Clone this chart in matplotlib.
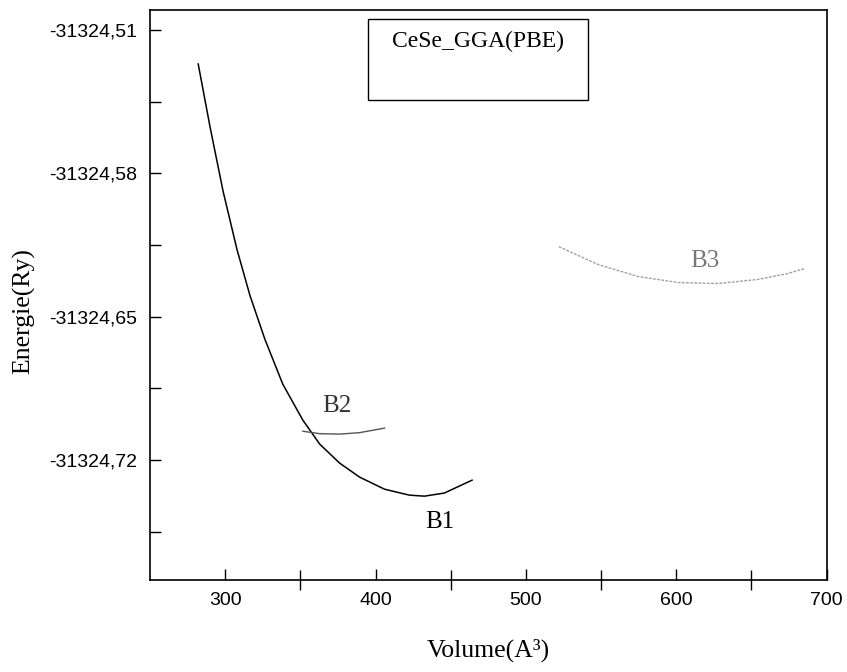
import matplotlib.pyplot as plt
from matplotlib.patches import Rectangle
from matplotlib.ticker import FixedLocator, FuncFormatter

# B1 curve (volume, energy)
b1_vol = [282.1, 290.1, 298.7, 307.9, 316.5, 326.5, 338.4, 351.7, 362.9,
          376.2, 389.4, 406.0, 422.5, 432.5, 445.7, 464.2]
b1_en = [-31324.5266, -31324.5578, -31324.5889, -31324.6172, -31324.6396,
         -31324.6611, -31324.6830, -31324.7005, -31324.7122, -31324.7215,
         -31324.7283, -31324.7342, -31324.7371, -31324.7376, -31324.7361,
         -31324.7298]

# B2 curve
b2_vol = [351.7, 362.9, 376.2, 389.4, 406.0]
b2_en = [-31324.7059, -31324.7071, -31324.7073, -31324.7066, -31324.7044]

# B3 curve
b3_vol = [521.9, 548.3, 574.8, 601.3, 627.8, 654.3, 674.2, 685.4]
b3_en = [-31324.6158, -31324.6246, -31324.6304, -31324.6333, -31324.6338,
         -31324.6318, -31324.6289, -31324.6265]

y_major = [-31324.51, -31324.58, -31324.65, -31324.72]
y_minor = [-31324.545, -31324.615, -31324.685, -31324.755]
x_major = [300, 400, 500, 600, 700]
x_minor = [350, 450, 550, 650]

serif = ['Liberation Serif', 'DejaVu Serif']
sans = ['Liberation Sans', 'DejaVu Sans']

fig = plt.figure(figsize=(8.47, 6.72), dpi=100)
ax = fig.add_axes([0.177, 0.137, 0.799, 0.848])

ax.plot(b1_vol, b1_en, color='black', lw=1.1)
ax.plot(b2_vol, b2_en, color='#555555', lw=1.0)
ax.plot(b3_vol, b3_en, color='#a0a0a0', lw=1.0, linestyle=(0, (2, 1)))

ax.set_xlim(250, 700)
ax.set_ylim(-31324.7785, -31324.5003)

ax.xaxis.set_major_locator(FixedLocator(x_major))
ax.xaxis.set_minor_locator(FixedLocator(x_minor))
ax.yaxis.set_major_locator(FixedLocator(y_major))
ax.yaxis.set_minor_locator(FixedLocator(y_minor))
ax.yaxis.set_major_formatter(FuncFormatter(lambda v, p: f'{v:.2f}'.replace('.', ',')))
ax.xaxis.set_major_formatter(FuncFormatter(lambda v, p: f'{v:.0f}'))

ax.tick_params(axis='both', which='major', direction='in', length=8, width=1, labelsize=14, pad=9)
ax.tick_params(axis='y', which='minor', direction='in', length=8, width=1)
ax.tick_params(axis='x', which='minor', direction='inout', length=14, width=1)
ax.tick_params(top=False, right=False)
for lab in ax.get_xticklabels() + ax.get_yticklabels():
    lab.set_family(sans)

for sp in ax.spines.values():
    sp.set_linewidth(1.2)

ax.set_xlabel('Volume(A³)', family=serif, fontsize=18.5)
ax.set_ylabel('Energie(Ry)', family=serif, fontsize=18.5)
ax.xaxis.set_label_coords(0.5, -0.103)
ax.yaxis.set_label_coords(-0.17, 0.472)

ax.text(443, -31324.7500, 'B1', family=serif, fontsize=18, ha='center', va='center')
ax.text(374, -31324.6937, 'B2', family=serif, fontsize=18, ha='center', va='center', color='#333333')
ax.text(619, -31324.6229, 'B3', family=serif, fontsize=18, ha='center', va='center', color='#777777')

# title box
ax.add_patch(Rectangle((0.322, 0.842), 0.325, 0.143, transform=ax.transAxes,
                       fill=False, edgecolor='black', lw=1.0))
ax.text(0.485, 0.945, 'CeSe_GGA(PBE)', transform=ax.transAxes, family=serif,
        fontsize=17, ha='center', va='center')

fig.savefig('out.png', dpi=100)
